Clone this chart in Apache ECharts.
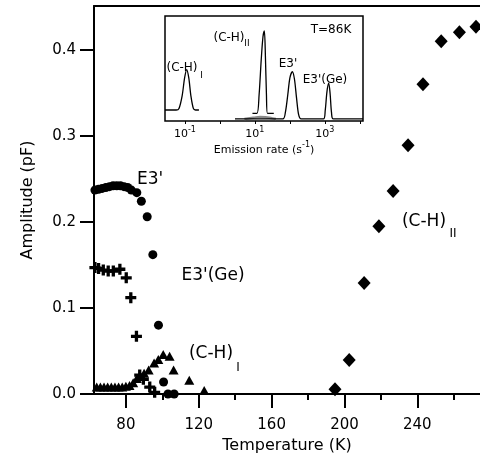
<!DOCTYPE html>
<html><head><meta charset="utf-8">
<script src="https://cdn.jsdelivr.net/npm/echarts@6/dist/echarts.min.js"></script>
<style>html,body{margin:0;padding:0;background:#fff}#c{width:480px;height:462px}</style>
</head><body><div id="c"></div>
<script>
// Main panel data: [Temperature (K), Amplitude (pF)]
const e3Circles = [[63,0.237],[65,0.238],[67,0.239],[69,0.240],[71,0.241],[73,0.242],[75,0.242],[77,0.242],[79,0.241],[81,0.240],[83,0.237],[86,0.234],[88.5,0.224],[91.7,0.206],[94.8,0.162],[97.9,0.080],[100.7,0.014],[103.1,0.0],[106.5,0.0]];
const e3GeCrosses = [[63,0.147],[65,0.146],[67.6,0.144],[70.3,0.143],[73.1,0.143],[76.7,0.145],[80.2,0.135],[82.7,0.112],[85.8,0.067],[87.6,0.022],[89.6,0.017],[93.1,0.008],[95.8,0.002]];
const chITriangles = [[64,0.008],[66,0.008],[68,0.008],[70,0.008],[72,0.008],[74,0.008],[76,0.008],[78,0.008],[80,0.009],[82,0.010],[84,0.013],[86,0.018],[88,0.021],[90,0.024],[92.5,0.028],[95.5,0.036],[97.8,0.040],[100.5,0.046],[104,0.044],[106.2,0.028],[114.8,0.016],[123,0.004]];
const chIIDiamonds = [[194.8,0.0055],[202.6,0.0395],[210.8,0.129],[218.9,0.195],[226.7,0.236],[234.9,0.289],[243.1,0.360],[253.1,0.410],[263.1,0.4205],[272.2,0.427]];
const xMajorTicks = [80,120,160,200,240];
const xMinorTicks = [100,140,180,220,260];
const yMajorTicks = [0,0.1,0.2,0.3,0.4];
const yMinorTicks = [0.05,0.15,0.25,0.35];

// Inset data: [log10 emission rate, signal (relative)]
const insetCHI = [[-1.57,0.105],[-1.25,0.105],[-1.17,0.12],[-1.08,0.24],[-1.01,0.41],[-0.95,0.49],[-0.89,0.41],[-0.83,0.24],[-0.76,0.12],[-0.70,0.105],[-0.60,0.105]];
const insetCHII = [[0.93,0.073],[1.06,0.073],[1.12,0.25],[1.18,0.58],[1.23,0.80],[1.27,0.857],[1.30,0.62],[1.33,0.25],[1.36,0.073],[1.54,0.073]];
const insetE3 = [[0.43,0.02],[1.80,0.02],[1.87,0.08],[1.94,0.25],[2.00,0.41],[2.07,0.47],[2.13,0.40],[2.19,0.22],[2.25,0.06],[2.32,0.02],[2.96,0.02],[3.01,0.10],[3.06,0.28],[3.11,0.36],[3.15,0.26],[3.19,0.08],[3.24,0.02],[4.09,0.02]];
const insetHump = [[0.70,0.02],[0.95,0.03],[1.15,0.038],[1.30,0.036],[1.50,0.025],[1.60,0.02]];
const insetTicks = [-1,0,1,2,3,4];
const insetLabels = [-1,1,3];

const FONT = '"DejaVu Sans", sans-serif';
const plusPath = 'path://M3.5,0h3v3.5h3.5v3h-3.5v3.5h-3v-3.5h-3.5v-3h3.5z';

const chart = echarts.init(document.getElementById('c'), null, {renderer:'canvas'});
const txt = (t, x, y, size) => ({type:'text', z:100, style:{text:t, x:x, y:y, font: size+'px '+FONT, fill:'#000', textAlign:'center', textVerticalAlign:'middle', align:'center', verticalAlign:'middle'}});
const mark = {color:'#000', opacity:1};

chart.setOption({
  animation:false,
  backgroundColor:'#fff',
  grid:[
    {left:94, top:6, width:388, height:388, show:false},
    {left:165, top:16, width:198, height:105, show:true, borderColor:'#000', borderWidth:1.5, backgroundColor:'#fff', z:5}
  ],
  xAxis:[
    {type:'value', gridIndex:0, min:62.5, max:274.4, position:'bottom',
     axisLine:{show:true, lineStyle:{color:'#000', width:2}},
     axisTick:{show:true, customValues:xMajorTicks, length:14, lineStyle:{color:'#000', width:2}},
     axisLabel:{show:true, customValues:xMajorTicks, margin:24, color:'#000', fontSize:15, fontFamily:FONT},
     splitLine:{show:false},
     name:'Temperature (K)', nameLocation:'middle', nameGap:41,
     nameTextStyle:{color:'#000', fontSize:16, fontFamily:FONT}},
    {type:'value', gridIndex:0, min:62.5, max:274.4, position:'bottom',
     axisLine:{show:false},
     axisTick:{show:true, customValues:xMinorTicks, length:6, lineStyle:{color:'#000', width:2}},
     axisLabel:{show:false}, splitLine:{show:false}},
    {type:'value', gridIndex:0, min:62.5, max:274.4, position:'top',
     axisLine:{show:true, lineStyle:{color:'#000', width:2}},
     axisTick:{show:false}, axisLabel:{show:false}, splitLine:{show:false}},
    {type:'value', gridIndex:1, min:-1.57, max:4.09, position:'bottom', z:6,
     axisLine:{show:false},
     axisTick:{show:true, customValues:insetTicks, length:3, lineStyle:{color:'#000', width:1}},
     axisLabel:{show:true, customValues:insetLabels, margin:4, color:'#000', fontSize:11, fontFamily:FONT,
       formatter:function(v){return '{b|10}{s|'+Math.round(v)+'}';},
       rich:{b:{fontSize:11, fontFamily:FONT, color:'#000', padding:[4,0,0,0]}, s:{fontSize:8, fontFamily:FONT, color:'#000', padding:[0,0,6,0]}}},
     splitLine:{show:false},
     name:'{n|Emission rate (s}{s|-1}{n|)}', nameLocation:'middle', nameGap:17,
     nameTextStyle:{rich:{n:{fontSize:11, fontFamily:FONT, color:'#000', padding:[4,0,0,0]}, s:{fontSize:8, fontFamily:FONT, color:'#000', padding:[0,0,6,0]}}}}
  ],
  yAxis:[
    {type:'value', gridIndex:0, min:0, max:0.451,
     axisLine:{show:true, lineStyle:{color:'#000', width:2}},
     axisTick:{show:true, customValues:yMajorTicks, length:14, lineStyle:{color:'#000', width:2}},
     axisLabel:{show:true, customValues:yMajorTicks, margin:18, color:'#000', fontSize:15, fontFamily:FONT,
       formatter:function(v){return v.toFixed(1);}},
     splitLine:{show:false},
     name:'Amplitude (pF)', nameLocation:'middle', nameGap:58, nameRotate:90,
     nameTextStyle:{color:'#000', fontSize:16, fontFamily:FONT}},
    {type:'value', gridIndex:0, min:0, max:0.451,
     axisLine:{show:false},
     axisTick:{show:true, customValues:yMinorTicks, length:7, lineStyle:{color:'#000', width:2}},
     axisLabel:{show:false}, splitLine:{show:false}},
    {type:'value', gridIndex:1, min:0, max:1, show:false}
  ],
  series:[
    {name:"E3'", type:'scatter', xAxisIndex:0, yAxisIndex:0, data:e3Circles, symbol:'circle', symbolSize:9, itemStyle:mark, clip:false},
    {name:"E3'(Ge)", type:'scatter', xAxisIndex:0, yAxisIndex:0, data:e3GeCrosses, symbol:plusPath, symbolSize:11, itemStyle:mark, clip:false},
    {name:'(C-H)I', type:'scatter', xAxisIndex:0, yAxisIndex:0, data:chITriangles, symbol:'triangle', symbolSize:[10,9], itemStyle:mark, clip:false},
    {name:'(C-H)II', type:'scatter', xAxisIndex:0, yAxisIndex:0, data:chIIDiamonds, symbol:'diamond', symbolSize:[13,14], itemStyle:mark, clip:false},
    {type:'line', xAxisIndex:3, yAxisIndex:2, data:insetHump, showSymbol:false, smooth:true, lineStyle:{color:'#888', width:2.5}, z:7},
    {type:'line', xAxisIndex:3, yAxisIndex:2, data:insetCHI, showSymbol:false, smooth:0.3, lineStyle:{color:'#000', width:1.3}, z:8},
    {type:'line', xAxisIndex:3, yAxisIndex:2, data:insetCHII, showSymbol:false, smooth:0.3, lineStyle:{color:'#000', width:1.3}, z:8},
    {type:'line', xAxisIndex:3, yAxisIndex:2, data:insetE3, showSymbol:false, smooth:0.3, lineStyle:{color:'#000', width:1.3}, z:8}
  ],
  graphic:[
    txt("E3'", 150, 180, 17),
    txt("E3'(Ge)", 213, 276, 17),
    txt('(C-H)', 211, 354, 17),
    txt('I', 238, 368, 12),
    txt('(C-H)', 424, 222, 17),
    txt('II', 453, 234, 12),
    txt('(C-H)', 182, 68, 12),
    txt('I', 201.5, 76, 9),
    txt('(C-H)', 229, 37.5, 12),
    txt('II', 247, 43.5, 9),
    txt("E3'", 288, 64, 12),
    txt("E3'(Ge)", 325, 80, 12),
    txt('T=86K', 331, 30, 12)
  ]
});
</script></body></html>
